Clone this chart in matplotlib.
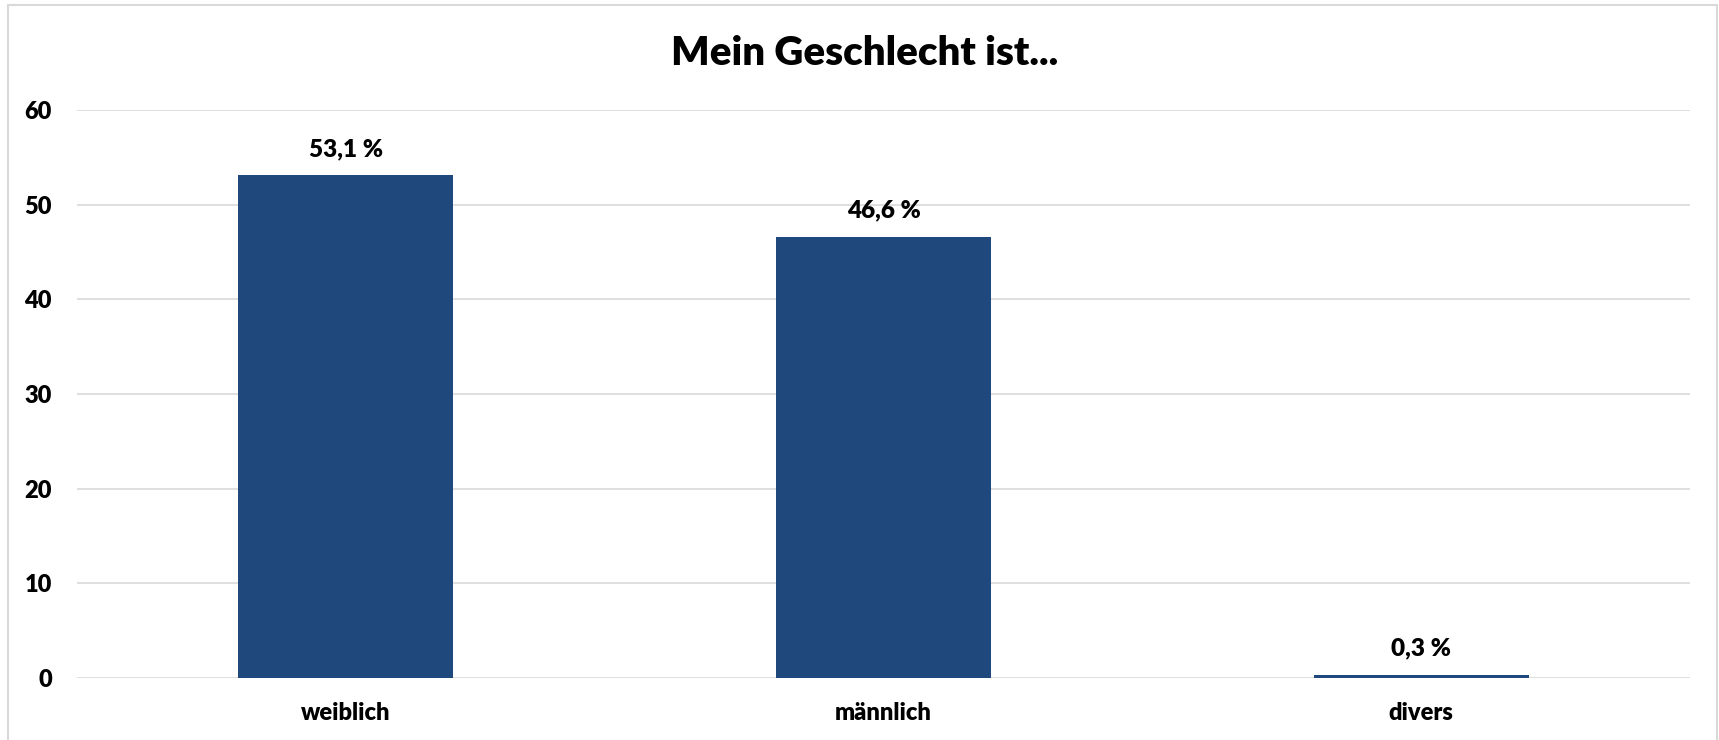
import matplotlib.pyplot as plt
from matplotlib.patches import Rectangle

# Mein Geschlecht ist... (Angaben in %)
categories = ['weiblich', 'männlich', 'divers']
values = [53.1, 46.6, 0.3]
labels = ['53,1 %', '46,6 %', '0,3 %']
yticks = [0, 10, 20, 30, 40, 50, 60]

plt.rcParams['font.family'] = ['Lato', 'DejaVu Sans']
W = 'heavy'

fig = plt.figure(figsize=(17.19, 7.40), dpi=100)
ax = fig.add_axes([0.0448, 0.0838, 0.9383, 0.7676])

x = range(len(categories))
ax.bar(x, values, width=0.4, color='#1F497D', linewidth=0, zorder=3)

for xi, v, lab in zip(x, values, labels):
    ax.annotate(lab, (xi, v), xytext=(0, 14), textcoords='offset points',
                ha='center', va='baseline', fontsize=17.5, fontweight=W)

ax.set_xlim(-0.5, 2.5)
ax.set_ylim(0, 60)
ax.set_yticks(yticks)
ax.set_xticks(list(x))
ax.set_xticklabels(categories)
ax.tick_params(axis='both', length=0, labelsize=17)
ax.tick_params(axis='y', pad=18)
ax.tick_params(axis='x', pad=17)
for t in ax.get_xticklabels() + ax.get_yticklabels():
    t.set_fontweight(W)

ax.grid(axis='y', color='#D9D9D9', linewidth=1.2, zorder=0)
for s in ax.spines.values():
    s.set_visible(False)

fig.text(0.503, 0.928, 'Mein Geschlecht ist...', ha='center', va='center',
         fontsize=29, fontweight=W)

# light frame around the chart area
fig.patches.append(Rectangle((8 / 1719, -0.01), 1709 / 1719, 1.01 - 5 / 740,
                             transform=fig.transFigure, fill=False,
                             edgecolor='#D9D9D9', linewidth=1.5))

fig.savefig('out.png', dpi=100)
